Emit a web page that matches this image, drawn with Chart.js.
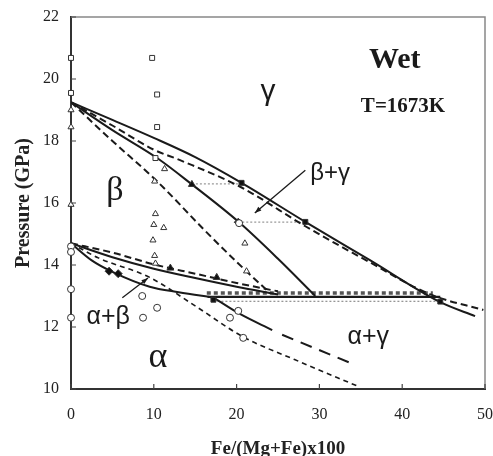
<!DOCTYPE html>
<html>
<head>
<meta charset="utf-8">
<style>
html, body { margin: 0; padding: 0; background: #fff; }
</style>
</head>
<body>
<canvas id="phaseChart" width="493" height="456"></canvas>
<script src="https://cdn.jsdelivr.net/npm/chart.js@4.4.0/dist/chart.umd.min.js"></script>
<script>
const xTicks = [0, 10, 20, 30, 40, 50];
const yTicks = [10, 12, 14, 16, 18, 20, 22];

// gamma-in boundary: observed (solid) and calculated (dashed)
const gammaObsX = [0, 5, 10, 15, 20.6, 28.3, 36, 44.6, 48.8];
const gammaObsY = [19.25, 18.68, 18.1, 17.48, 16.65, 15.39, 14.17, 12.8, 12.35];
const gammaCalcX = [0, 5, 10, 13.1, 20.6, 28.3, 36, 43.4, 49.8];
const gammaCalcY = [19.25, 18.5, 17.72, 17.39, 16.5, 15.25, 14.1, 13.05, 12.55];

// beta-out boundary
const betaObsX = [0, 5, 10.4, 14.6, 20.2, 25, 29.5];
const betaObsY = [19.25, 18.35, 17.45, 16.6, 15.4, 14.2, 13.0];
const betaCalcX = [0, 5, 10.4, 16.1, 20, 24];
const betaCalcY = [19.25, 18.0, 16.7, 15.13, 14.1, 13.1];

// alpha+beta loop
const abUpperX = [0, 5, 10, 15, 20, 25];
const abUpperY = [14.7, 14.25, 13.88, 13.58, 13.3, 13.05];
const abUpperCalcY = [14.7, 14.4, 14.02, 13.72, 13.42, 13.15];
const abLowerX = [0, 2.5, 5, 9.5, 13, 17.2];
const abLowerY = [14.7, 14.15, 13.78, 13.3, 13.12, 12.95];
const abLowerCalcX = [0, 3.3, 9.5, 15, 20.8, 27, 34.9];
const abLowerCalcY = [14.7, 14.23, 13.6, 12.68, 11.68, 10.95, 10.06];

// alpha / alpha+gamma
const agObsX = [17.2, 20.4, 24.3];
const agObsY = [12.95, 12.42, 11.9];
const agExtX = [25.5, 34.3];
const agExtY = [11.75, 10.78];

// alpha+beta+gamma
const loopSolidX = [16.5, 44.6];
const loopSolidY = [12.97, 12.97];
const loopCalcX = [16.4, 43.7];
const loopCalcY = [13.1, 13.1];
const loopTieX = [17.2, 44.6];
const loopTieY = [12.83, 12.83];
const tie1X = [14.6, 20.6];
const tie1Y = [16.62, 16.62];
const tie2X = [20.2, 28.3];
const tie2Y = [15.38, 15.38];

// run products
const openSqX = [0, 0, 9.8, 10.4, 10.4, 10.2];
const openSqY = [20.68, 19.55, 20.68, 19.5, 18.45, 17.45];
const openTriX = [0, 0, 0, 11.3, 10.1, 10.2, 10.0, 11.2, 9.9, 10.1, 10.2, 21.0, 21.2];
const openTriY = [19.0, 18.45, 15.95, 17.1, 16.7, 15.65, 15.3, 15.2, 14.8, 14.3, 14.05, 14.7, 13.8];
const openCircX = [0, 0, 0, 0, 8.6, 10.4, 8.7, 19.2, 20.2, 20.8, 20.3];
const openCircY = [14.6, 14.42, 13.22, 12.3, 13.0, 12.62, 12.3, 12.3, 12.52, 11.65, 15.35];
const fillSqX = [20.6, 28.3, 44.6, 17.2];
const fillSqY = [16.65, 15.39, 12.82, 12.88];
const fillTriX = [14.6, 12, 17.6];
const fillTriY = [16.6, 13.9, 13.6];
const fillDiaX = [20.2, 4.6, 5.7];
const fillDiaY = [15.38, 13.8, 13.72];

const annotations = [
    { text: "Wet", x: 39.1, y: 20.6, font: "bold 30px 'Liberation Serif'" },
    { text: "T=1673K", x: 40.1, y: 19.1, font: "bold 21px 'Liberation Serif'" },
    { text: "γ", x: 23.8, y: 19.6, font: "30px 'Liberation Sans'" },
    { text: "β", x: 5.3, y: 16.4, font: "34px 'Liberation Serif'" },
    { text: "α", x: 10.5, y: 11.0, font: "36px 'Liberation Serif'" },
    { text: "α+β", x: 4.5, y: 12.32, font: "25px 'Liberation Sans'" },
    { text: "α+γ", x: 35.9, y: 11.68, font: "25px 'Liberation Sans'" },
    { text: "β+γ", x: 31.3, y: 16.97, font: "24px 'Liberation Sans'" }
];
const arrows = [
    { from: [28.3, 17.06], to: [22.2, 15.68] },
    { from: [6.2, 12.94], to: [9.3, 13.58] }
];

const ink = "#1a1a1a";

function pts(xs, ys) {
    return xs.map((x, i) => ({ x: x, y: ys[i] }));
}

function curve(xs, ys, dash, width, color) {
    return {
        data: pts(xs, ys),
        showLine: true,
        borderColor: color || ink,
        borderWidth: width || 2,
        borderDash: dash || [],
        pointRadius: 0,
        cubicInterpolationMode: "monotone",
        order: 2
    };
}

function marks(xs, ys, style, filled, r) {
    return {
        data: pts(xs, ys),
        showLine: false,
        pointStyle: style,
        pointRadius: r || 3.5,
        pointBorderWidth: 1,
        pointBorderColor: "#333",
        pointBackgroundColor: filled ? "#111" : "#fff",
        clip: false,
        order: 1
    };
}

const datasets = [
    curve(gammaObsX, gammaObsY),
    curve(gammaCalcX, gammaCalcY, [7, 4]),
    curve(betaObsX, betaObsY),
    curve(betaCalcX, betaCalcY, [7, 4]),
    curve(abUpperX, abUpperY),
    curve(abUpperX, abUpperCalcY, [7, 4]),
    curve(abLowerX, abLowerY),
    curve(abLowerCalcX, abLowerCalcY, [5, 4], 1.6),
    curve(agObsX, agObsY),
    curve(agExtX, agExtY, [12, 8]),
    curve(loopSolidX, loopSolidY, [], 2.2),
    curve(loopCalcX, loopCalcY, [4, 3], 3.5, "#555"),
    curve(loopTieX, loopTieY, [2, 2], 1, "#777"),
    curve(tie1X, tie1Y, [2, 2], 1.2, "#999"),
    curve(tie2X, tie2Y, [2, 2], 1.2, "#999"),
    marks(openSqX, openSqY, "rect", false),
    marks(openTriX, openTriY, "triangle", false),
    marks(openCircX, openCircY, "circle", false),
    marks(fillSqX, fillSqY, "rect", true),
    marks(fillTriX, fillTriY, "triangle", true, 4),
    marks(fillDiaX, fillDiaY, "rectRot", true, 4)
];

const extras = {
    id: "extras",
    afterDraw(chart) {
        const ctx = chart.ctx;
        const xs = chart.scales.x, ys = chart.scales.y;
        const a = chart.chartArea;
        ctx.save();
        // frame top and right
        ctx.strokeStyle = "#888";
        ctx.lineWidth = 1.5;
        ctx.beginPath();
        ctx.moveTo(a.left, a.top);
        ctx.lineTo(a.right, a.top);
        ctx.lineTo(a.right, a.bottom);
        ctx.stroke();
        // inward ticks
        ctx.strokeStyle = "#444";
        ctx.lineWidth = 1.2;
        ctx.beginPath();
        xTicks.forEach(v => {
            const px = xs.getPixelForValue(v);
            ctx.moveTo(px, a.bottom);
            ctx.lineTo(px, a.bottom - 5);
        });
        yTicks.forEach(v => {
            const py = ys.getPixelForValue(v);
            ctx.moveTo(a.left, py);
            ctx.lineTo(a.left + 5, py);
        });
        ctx.stroke();
        // arrows
        ctx.strokeStyle = ink;
        ctx.fillStyle = ink;
        ctx.lineWidth = 1.3;
        arrows.forEach(ar => {
            const x1 = xs.getPixelForValue(ar.from[0]), y1 = ys.getPixelForValue(ar.from[1]);
            const x2 = xs.getPixelForValue(ar.to[0]), y2 = ys.getPixelForValue(ar.to[1]);
            const ang = Math.atan2(y2 - y1, x2 - x1);
            ctx.beginPath();
            ctx.moveTo(x1, y1);
            ctx.lineTo(x2, y2);
            ctx.stroke();
            ctx.beginPath();
            ctx.moveTo(x2, y2);
            ctx.lineTo(x2 - 7 * Math.cos(ang - 0.35), y2 - 7 * Math.sin(ang - 0.35));
            ctx.lineTo(x2 - 7 * Math.cos(ang + 0.35), y2 - 7 * Math.sin(ang + 0.35));
            ctx.closePath();
            ctx.fill();
        });
        // labels
        ctx.textAlign = "center";
        ctx.textBaseline = "middle";
        annotations.forEach(t => {
            ctx.font = t.font;
            ctx.fillText(t.text, xs.getPixelForValue(t.x), ys.getPixelForValue(t.y));
        });
        ctx.restore();
    }
};

new Chart(document.getElementById("phaseChart"), {
    type: "scatter",
    data: { datasets: datasets },
    plugins: [extras],
    options: {
        responsive: false,
        animation: false,
        devicePixelRatio: 1,
        layout: { padding: { top: 17, right: 8, bottom: 0, left: 0 } },
        plugins: { legend: { display: false }, tooltip: { enabled: false } },
        scales: {
            x: {
                type: "linear",
                min: 0,
                max: 50,
                afterBuildTicks: s => { s.ticks = xTicks.map(v => ({ value: v })); },
                afterFit: s => {
                    s.height = 67;
                    s.paddingLeft = 0;
                    s.paddingRight = 0;
                },
                grid: { display: false, drawTicks: false },
                border: { display: true, color: "#333", width: 2 },
                ticks: {
                    color: "#222",
                    padding: 16,
                    font: { family: "'Liberation Serif'", size: 16 }
                },
                title: {
                    display: true,
                    text: "Fe/(Mg+Fe)x100",
                    color: "#222",
                    padding: { top: 0, bottom: -3 },
                    font: { family: "'Liberation Serif'", size: 19, weight: "bold", lineHeight: 1 }
                }
            },
            y: {
                type: "linear",
                min: 10,
                max: 22,
                afterBuildTicks: s => { s.ticks = yTicks.map(v => ({ value: v })); },
                afterFit: s => {
                    s.width = 71;
                    s.paddingTop = 0;
                    s.paddingBottom = 0;
                },
                grid: { display: false, drawTicks: false },
                border: { display: true, color: "#333", width: 2 },
                ticks: {
                    color: "#222",
                    padding: 12,
                    font: { family: "'Liberation Serif'", size: 16 }
                },
                title: {
                    display: true,
                    text: "Pressure (GPa)",
                    color: "#222",
                    padding: { top: 12, bottom: 0 },
                    font: { family: "'Liberation Serif'", size: 20, weight: "bold" }
                }
            }
        }
    }
});
</script>
</body>
</html>
